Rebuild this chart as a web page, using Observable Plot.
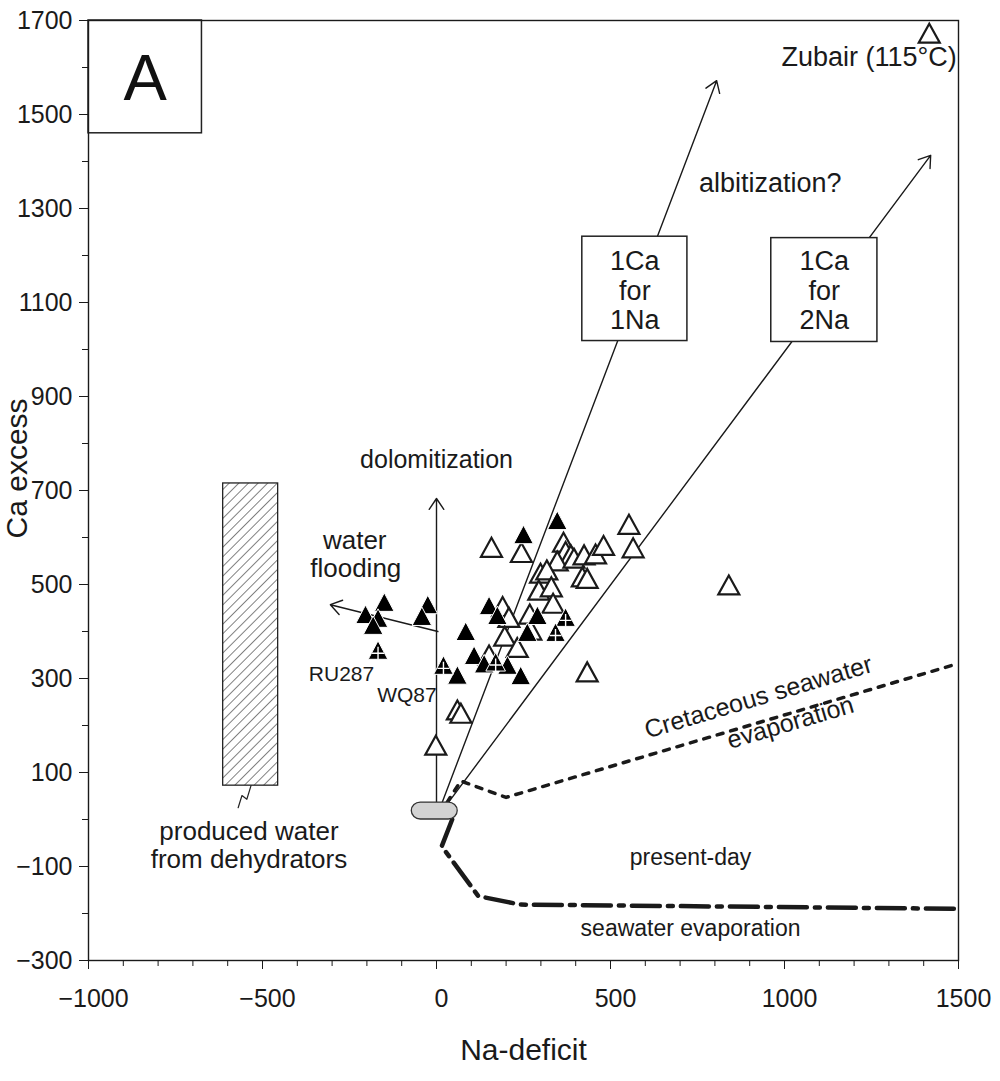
<!DOCTYPE html>
<html><head><meta charset="utf-8">
<script src="https://cdn.jsdelivr.net/npm/d3@7"></script>
<script src="https://cdn.jsdelivr.net/npm/@observablehq/plot@0.6"></script>
<style>body{margin:0;background:#fff} #chart svg{display:block}</style>
</head><body><div id="chart"></div>
<script>
// ---- axis ticks ----
const xMajor = [-1000, -500, 0, 500, 1000, 1500];
const xMinor = d3.range(-1000, 1501, 100);
const yMajor = [-300, -100, 100, 300, 500, 700, 900, 1100, 1300, 1500, 1700];
const yMinor = d3.range(-300, 1701, 100);

// ---- samples [Na-deficit, Ca excess] ----
const openTriangles = [
  [158,578],[244,567],[365,589],[371,569],[386,562],[347,549],[395,555],[424,562],
  [457,564],[480,582],[553,627],[565,577],[299,523],[317,530],[419,515],[433,512],
  [294,487],[330,494],[335,459],[190,452],[208,429],[268,436],[196,389],[232,365],
  [60,232],[70,225],[-2,157],[433,313],[840,498],[1416,1672],[151,349],[271,402]
];
const blackTriangles = [
  [-150,462],[-204,436],[-168,428],[-182,413],[-25,457],[-42,432],[84,400],[60,307],
  [250,606],[347,636],[151,455],[175,434],[290,434],[261,398],[108,349],[137,331],
  [204,328],[242,306]
];
const crossedTriangles = [[-168,360],[20,328],[371,430],[342,398],[170,335]];

// ---- evaporation trends ----
const cretaceousSeawater = [[30,36],[70,82],[200,47],[1500,332]];
const presentDaySeawater = [[45,0],[15,-57],[120,-163],[240,-181],[1500,-190]];

// ---- process arrows ----
const processArrows = [
  {name:"dolomitization", x1:0,  y1:20,  x2:0,    y2:683},
  {name:"1Ca for 1Na",    x1:13, y1:30,  x2:805,  y2:1572},
  {name:"1Ca for 2Na",    x1:28, y1:30,  x2:1420, y2:1413},
  {name:"water flooding", x1:4,  y1:400, x2:-305, y2:457}
];

// ---- areas ----
const producedWater = [{x1:-613, x2:-455, y1:72, y2:715}];
const producedWaterLink = [[-533,72],[-545,43],[-559,51],[-570,25]];
const seawaterOrigin = [{x1:-71, x2:61, y1:0, y2:36}];
const ratioBoxes = [
  {x1:419, x2:721, y1:1018, y2:1240},
  {x1:962, x2:1267, y1:1016, y2:1237}
];
const panelBox = [{x1:-1000, x2:-674, y1:1460, y2:1700}];

// ---- texts ----
const processLabels = [
  {text:"water", x:-235, y:594},
  {text:"flooding", x:-232, y:534},
  {text:"produced water", x:-539, y:-25},
  {text:"from dehydrators", x:-539, y:-85}
];
const dolomitizationLabel = [{text:"dolomitization", x:0, y:764}];
const albitizationLabel = [{text:"albitization?", x:959, y:1353}];
const presentDayLabels = [
  {text:"present-day", x:730, y:-81},
  {text:"seawater evaporation", x:730, y:-232}
];
const sampleLabels = [
  {text:"RU287", x:-273, y:308},
  {text:"WQ87", x:-85, y:265}
];
const boxTexts = [
  {text:"1Ca", x:570, y:1188},{text:"for", x:570, y:1123},{text:"1Na", x:570, y:1062},
  {text:"1Ca", x:1114, y:1188},{text:"for", x:1114, y:1123},{text:"2Na", x:1114, y:1062}
];
const slopedTexts = [
  {text:"Cretaceous seawater", x:925, y:260},
  {text:"evaporation", x:1017, y:206}
];
const zubairLabel = [{text:"Zubair (115°C)", x:1495, y:1621}];
const panelLabel = [{text:"A", x:-837, y:1575}];
const xTitle = [{text:"Na-deficit", x:250, y:-491}];
const yTitle = [{text:"Ca excess", x:-1000, y:747}];

// ---- symbols ----
const triOpen = {draw(c){ c.moveTo(0,-10); c.lineTo(10.5,9); c.lineTo(-10.5,9); c.closePath(); }};
const triSolid = {draw(c){ c.moveTo(0,-9.5); c.lineTo(9.8,9); c.lineTo(-9.8,9); c.closePath(); }};
const crossSym = {draw(c){ c.moveTo(0,-3.5); c.lineTo(0,9); c.moveTo(-6,3); c.lineTo(6,3); }};

const ink = "#1a1a1a";
const fmt = d => d < 0 ? "\u2212" + Math.abs(d) : String(d);
const X = d => d[0], Y = d => d[1];
const txt = (data, size, extra = {}) => Plot.text(data, {x:"x", y:"y", text:"text", fontSize:size, fill:ink, ...extra});

const chart = Plot.plot({
  width: 1000, height: 1081,
  marginLeft: 88, marginRight: 42, marginTop: 20, marginBottom: 121,
  x: {domain: [-1000, 1500], label: null},
  y: {domain: [-300, 1700], label: null},
  style: {fontFamily: "'Liberation Sans', Arial, sans-serif", fontSize: "25px", color: ink, background: "white"},
  marks: [
    Plot.rect(producedWater, {x1:"x1", x2:"x2", y1:"y1", y2:"y2", fill:"url(#hatch)", stroke:"#222", strokeWidth:1.3}),
    Plot.line(producedWaterLink, {x:X, y:Y, stroke:"#222", strokeWidth:1.2}),
    Plot.line(cretaceousSeawater, {x:X, y:Y, stroke:ink, strokeWidth:3.5, strokeDasharray:"6,8"}),
    Plot.line(presentDaySeawater, {x:X, y:Y, stroke:ink, strokeWidth:4.5, strokeDasharray:"28,8,5,8"}),
    Plot.arrow(processArrows, {x1:"x1", y1:"y1", x2:"x2", y2:"y2", stroke:ink, strokeWidth:1.4, headLength:14, headAngle:68}),
    Plot.rect(seawaterOrigin, {x1:"x1", x2:"x2", y1:"y1", y2:"y2", rx:9, fill:"#d3d3d3", stroke:"#333", strokeWidth:1.3}),
    Plot.rect(ratioBoxes, {x1:"x1", x2:"x2", y1:"y1", y2:"y2", fill:"white", stroke:"#222", strokeWidth:1.5}),
    Plot.rect(panelBox, {x1:"x1", x2:"x2", y1:"y1", y2:"y2", fill:"white", stroke:"#222", strokeWidth:1.5}),
    Plot.dot(openTriangles, {x:X, y:Y, symbol:triOpen, fill:"white", stroke:ink, strokeWidth:2.2}),
    Plot.dot(blackTriangles, {x:X, y:Y, symbol:triSolid, fill:"black", stroke:"white", strokeWidth:1}),
    Plot.dot(crossedTriangles, {x:X, y:Y, symbol:triSolid, fill:"black", stroke:"white", strokeWidth:1}),
    Plot.dot(crossedTriangles, {x:X, y:Y, symbol:crossSym, fill:"none", stroke:"white", strokeWidth:1.4}),
    txt(processLabels, 26),
    txt(dolomitizationLabel, 25),
    txt(albitizationLabel, 27),
    txt(presentDayLabels, 23),
    txt(sampleLabels, 21),
    txt(boxTexts, 27),
    txt(slopedTexts, 25, {rotate:-16.5}),
    txt(zubairLabel, 27, {textAnchor:"end"}),
    txt(panelLabel, 65, {fill:"#111"}),
    txt(xTitle, 30),
    txt(yTitle, 30, {rotate:-90, dx:-71}),
    Plot.axisX({ticks: xMinor, tickSize: 6, tickFormat: () => "", label: null, stroke: ink}),
    Plot.axisX({ticks: xMajor, tickSize: 9, tickFormat: () => "", label: null, stroke: ink}),
    Plot.axisX({ticks: xMajor, tickSize: 0, tickPadding: 29, dx: 5, tickFormat: fmt, fontSize: 25, label: null, fill: ink}),
    Plot.axisY({ticks: yMinor, tickSize: 6, tickFormat: () => "", label: null, stroke: ink}),
    Plot.axisY({ticks: yMajor, tickSize: 9, tickPadding: 7, tickFormat: fmt, fontSize: 25, label: null, stroke: ink, fill: ink}),
    Plot.frame({stroke: ink, strokeWidth: 1.4})
  ]
});

d3.select(chart).insert("defs", ":first-child").html(
  '<pattern id="hatch" patternUnits="userSpaceOnUse" width="6.8" height="10" patternTransform="rotate(45)">' +
  '<line x1="0" y1="-1" x2="0" y2="11" stroke="#1a1a1a" stroke-width="1.1"/></pattern>'
);
document.getElementById("chart").appendChild(chart);
</script>
</body></html>
